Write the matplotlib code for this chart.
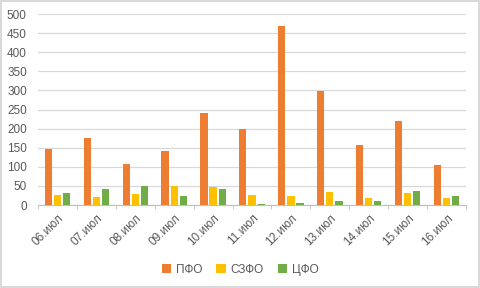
import numpy as np
import matplotlib
matplotlib.use('Agg')
import matplotlib.pyplot as plt

# данные
days = ['06.июл', '07.июл', '08.июл', '09.июл', '10.июл', '11.июл',
        '12.июл', '13.июл', '14.июл', '15.июл', '16.июл']
pfo = [147, 176, 107, 141, 241, 199, 469, 299, 157, 220, 105]
szfo = [26, 21, 29, 50, 47, 26, 24, 34, 18, 31, 18]
cfo = [32, 42, 50, 24, 42, 3, 5, 10, 10, 37, 24]

plt.rcParams['font.family'] = ['Liberation Sans', 'DejaVu Sans']
txt = '#595959'

fig = plt.figure(figsize=(4.8, 2.88), dpi=100)
fig.patch.set_edgecolor('#D9D9D9')
fig.patch.set_linewidth(1.5)
ax = fig.add_axes([0.079, 0.288, 0.892, 0.663])

x = np.arange(len(days))
w = 0.184
step = 0.235
ax.bar(x - step, pfo, w, color='#ED7D31', label='ПФО', zorder=3)
ax.bar(x, szfo, w, color='#FFC000', label='СЗФО', zorder=3)
ax.bar(x + step, cfo, w, color='#70AD47', label='ЦФО', zorder=3)

ax.set_ylim(0, 500)
ax.set_yticks(range(0, 501, 50))
ax.set_xlim(-0.5, len(days) - 0.5)
ax.grid(axis='y', color='#D9D9D9', linewidth=0.9, zorder=0)
for s in ['top', 'right', 'left']:
    ax.spines[s].set_visible(False)
ax.spines['bottom'].set_color('#BFBFBF')

ax.set_xticks(x)
ax.set_xticklabels(days, rotation=45, ha='right', va='top', rotation_mode='anchor')
ax.set_xticks(np.arange(-0.5, len(days)), minor=True)
ax.tick_params(axis='x', which='major', length=0, pad=5, labelsize=8.5, labelcolor=txt)
ax.tick_params(axis='x', which='minor', length=3, color='#BFBFBF')
ax.tick_params(axis='y', length=0, labelsize=8.5, labelcolor=txt, pad=8)

fig.legend(loc='lower center', bbox_to_anchor=(0.5, 0.005), ncol=3, frameon=False,
           fontsize=8.5, labelcolor=txt, handlelength=0.8, handleheight=0.8,
           handletextpad=0.4, columnspacing=1.2)

fig.savefig('out.png', dpi=100)
